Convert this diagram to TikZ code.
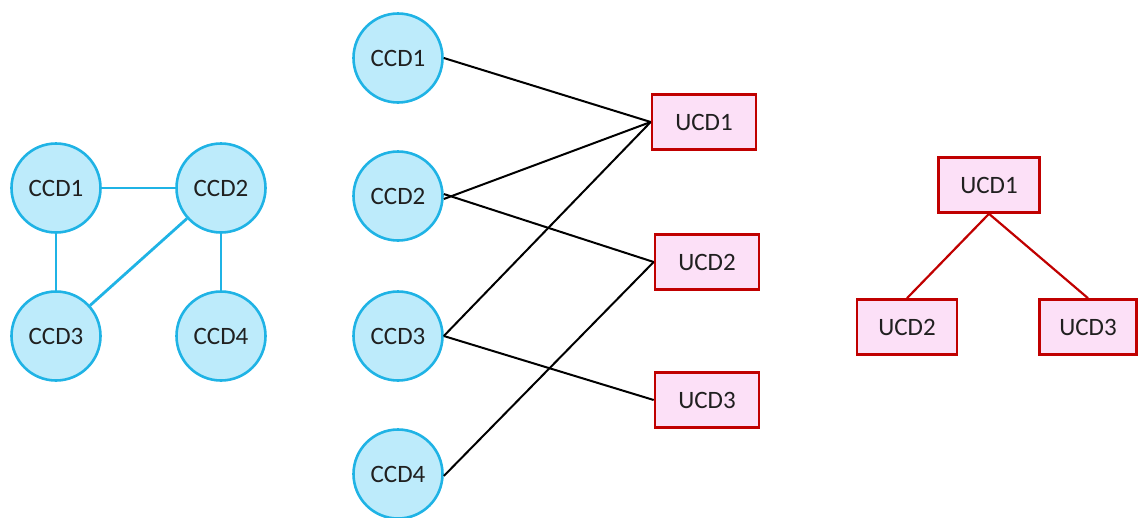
\documentclass[tikz,border=0pt]{standalone}
\usepackage{fontspec}
\setmainfont{Carlito}
\definecolor{cblue}{HTML}{1FB3E5}
\definecolor{cfill}{HTML}{BDEBFB}
\definecolor{ured}{HTML}{C00000}
\definecolor{ufill}{HTML}{FCE0F7}
\definecolor{txt}{HTML}{202020}
\begin{document}
\begin{tikzpicture}[x=1pt,y=-1pt,
  ccd/.style={circle,draw=cblue,fill=cfill,line width=2.6pt,minimum size=89pt,inner sep=0pt,text=txt,font=\fontsize{25}{29}\selectfont},
  ucd/.style={rectangle,draw=ured,fill=ufill,line width=2.6pt,minimum width=#1,minimum height=55pt,inner sep=0pt,text=txt,font=\fontsize{25}{29}\selectfont},
  ucd/.default=104pt,
  bline/.style={draw=cblue,line width=2.8pt},
  kline/.style={draw=black,line width=2pt},
  rline/.style={draw=ured,line width=2.2pt}]
\useasboundingbox (0,0) rectangle (1138,517);
% left group
\node[ccd] (a1) at (56,188) {CCD1};
\node[ccd] (a2) at (221,188) {CCD2};
\node[ccd] (a3) at (56,336) {CCD3};
\node[ccd] (a4) at (221,336) {CCD4};
\draw[bline] (a1) -- (a2);
\draw[bline] (a1) -- (a3);
\draw[bline] (a2) -- (a4);
\draw[bline] (a2) -- (a3);
% middle group
\node[ccd] (b1) at (398,58) {CCD1};
\node[ccd] (b2) at (398,196) {CCD2};
\node[ccd] (b3) at (398,336) {CCD3};
\node[ccd] (b4) at (398,474) {CCD4};
\node[ucd] (m1) at (704,122) {UCD1};
\node[ucd] (m2) at (707,262) {UCD2};
\node[ucd] (m3) at (707,400) {UCD3};
\draw[kline] (b1.east) -- (m1.west);
\draw[kline] ([yshift=-3pt]b2.east) -- (m1.west);
\draw[kline] ([yshift=2pt]b2.east) -- (m2.west);
\draw[kline] (b3.east) -- (m1.west);
\draw[kline] (b3.east) -- (m3.west);
\draw[kline] ([yshift=-2pt]b4.east) -- (m2.west);
% right group
\node[ucd=101pt] (r1) at (989,185) {UCD1};
\node[ucd=100pt] (r2) at (907,327) {UCD2};
\node[ucd=97pt] (r3) at (1088,327) {UCD3};
\draw[rline] (r1.south) -- (r2.north);
\draw[rline] (r1.south) -- (r3.north);
\end{tikzpicture}
\end{document}
